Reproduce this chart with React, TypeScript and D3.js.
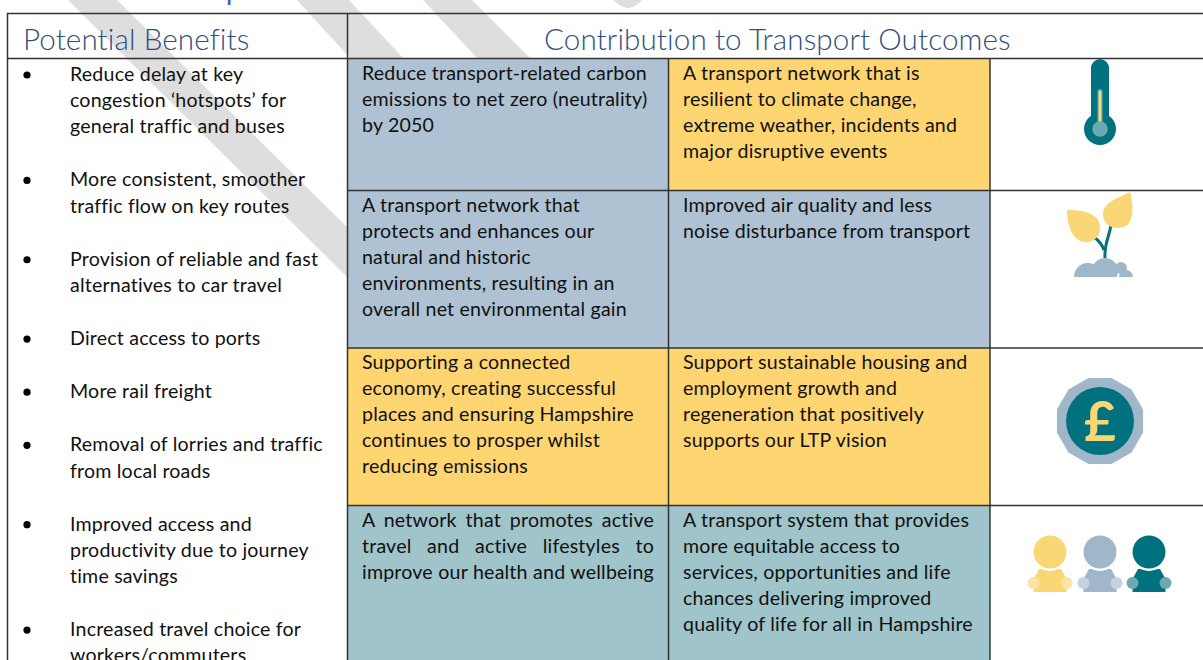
import React from "react";
import * as d3 from "d3";

// text
const benefitHeader = "Potential Benefits";
const outcomeHeader = "Contribution to Transport Outcomes";

const benefits = [
    ["Reduce delay at key", "congestion ‘hotspots’ for", "general traffic and buses"],
    ["More consistent, smoother", "traffic flow on key routes"],
    ["Provision of reliable and fast", "alternatives to car travel"],
    ["Direct access to ports"],
    ["More rail freight"],
    ["Removal of lorries and traffic", "from local roads"],
    ["Improved access and", "productivity due to journey", "time savings"],
    ["Increased travel choice for", "workers/commuters"],
];

const outcomesLeft = [
    ["Reduce transport-related carbon", "emissions to net zero (neutrality)", "by 2050"],
    ["A transport network that", "protects and enhances our", "natural and historic", "environments, resulting in an", "overall net environmental gain"],
    ["Supporting a connected", "economy, creating successful", "places and ensuring Hampshire", "continues to prosper whilst", "reducing emissions"],
    ["A network that promotes active", "travel and active lifestyles to", "improve our health and wellbeing"],
];

const outcomesRight = [
    ["A transport network that is", "resilient to climate change,", "extreme weather, incidents and", "major disruptive events"],
    ["Improved air quality and less", "noise disturbance from transport"],
    ["Support sustainable housing and", "employment growth and", "regeneration that positively", "supports our LTP vision"],
    ["A transport system that provides", "more equitable access to", "services, opportunities and life", "chances delivering improved", "quality of life for all in Hampshire"],
];

const leftFills = ["blue", "blue", "yellow", "teal"];
const rightFills = ["yellow", "blue", "yellow", "teal"];
const rowNames = ["climate", "environment", "economy", "people"];

const colors = {
    blue: "#aec2d3",
    yellow: "#ffd571",
    teal: "#9fc4ca",
    ink: "#333333",
    heading: "#2f4f80",
    stripe: "#dedede",
    iconTeal: "#00727f",
    iconTealSoft: "#6aabb2",
    iconBlue: "#a0b6c9",
    iconBlueSoft: "#c5d3df",
    iconYellow: "#fad775",
    iconYellowSoft: "#fae3a3",
};

export default function App() {
    const ref = React.useRef(null);

    React.useEffect(() => {
        drawChart();
    }, []);

    function drawChart() {
        const width = 1203;
        const height = 660;
        const font = "Lato, sans-serif";
        const bodySize = 19.6;

        const svg = d3.select(ref.current);
        svg.selectAll("*").remove();
        svg.attr("width", width).attr("height", height);

        const y = d3
            .scaleOrdinal()
            .domain(rowNames)
            .range([58.5, 190.5, 348, 505.5]);
        const rowBottom = (i) => (i < 3 ? y(rowNames[i + 1]) : height);

        const colLeft = 347.5;
        const colMid = 668.5;
        const colRight = 990;

        // watermark stripes sit behind the table
        const stripes = [
            "M68,0 L117,0 L347,227 L347,277 Z",
            "M297,0 L349,0 L403,58 L350,58 Z",
            "M423,0 L472,0 L530,58 L477,58 Z",
            "M613,0 L642,0 C636,6 632,8 628,8 C624,8 620,6 613,0 Z",
        ];
        svg.append("g")
            .selectAll("path")
            .data(stripes)
            .enter()
            .append("path")
            .attr("d", (d) => d)
            .attr("fill", colors.stripe);

        // cut off heading above the table
        svg.append("text")
            .attr("x", 226)
            .attr("y", 0)
            .attr("font-family", font)
            .attr("font-size", 27)
            .attr("fill", "#2f5ca8")
            .text("p");

        // cell fills
        const cells = svg.append("g");
        rowNames.forEach((name, i) => {
            cells.append("rect")
                .attr("x", colLeft)
                .attr("y", y(name))
                .attr("width", colMid - colLeft)
                .attr("height", rowBottom(i) - y(name))
                .attr("fill", colors[leftFills[i]]);
            cells.append("rect")
                .attr("x", colMid)
                .attr("y", y(name))
                .attr("width", colRight - colMid)
                .attr("height", rowBottom(i) - y(name))
                .attr("fill", colors[rightFills[i]]);
        });

        // table rules
        const rules = svg.append("g").attr("stroke", colors.ink).attr("stroke-width", 1.5);
        const rule = (x1, y1, x2, y2) =>
            rules.append("line").attr("x1", x1).attr("y1", y1).attr("x2", x2).attr("y2", y2);
        rule(7, 13.5, width, 13.5);
        rule(7.5, 13, 7.5, height);
        rule(7, 58.5, width, 58.5);
        rule(colLeft, 13, colLeft, height);
        rule(colMid, 58, colMid, height);
        rule(colRight, 58, colRight, height);
        rowNames.slice(1).forEach((name) => rule(colLeft, y(name), width, y(name)));

        // headers
        const headers = svg.append("g")
            .attr("font-family", font)
            .attr("font-weight", 300)
            .attr("font-size", 29.6)
            .attr("letter-spacing", 0.1)
            .attr("fill", colors.heading);
        headers.append("text").attr("x", 23).attr("y", 50).text(benefitHeader);
        headers.append("text").attr("x", 544).attr("y", 50).text(outcomeHeader);

        // left column bullets
        const body = svg.append("g")
            .attr("font-family", font)
            .attr("font-size", bodySize)
            .attr("letter-spacing", 0.19)
            .attr("fill", "#111111");

        let baseline = 81;
        benefits.forEach((group) => {
            body.append("circle")
                .attr("cx", 27)
                .attr("cy", baseline - 6)
                .attr("r", 3.6)
                .attr("fill", "#000000");
            group.forEach((line) => {
                body.append("text").attr("x", 70).attr("y", baseline).text(line);
                baseline += 26.15;
            });
            baseline += 27;
        });

        // outcome cells
        const cellText = (lines, x, top, justify) => {
            lines.forEach((line, i) => {
                const t = body.append("text")
                    .attr("x", x)
                    .attr("y", top + 21.3 + i * 26)
                    .text(line);
                if (justify) {
                    const gaps = line.split(" ").length - 1;
                    const extra = (justify - t.node().getComputedTextLength()) / gaps;
                    t.attr("word-spacing", extra);
                }
            });
        };
        rowNames.forEach((name, i) => {
            // only the active travel cell is justified in the source
            cellText(outcomesLeft[i], 362, y(name), i === 3 ? 292 : 0);
            cellText(outcomesRight[i], 683, y(name), 0);
        });

        drawThermometer(svg.append("g"));
        drawPlant(svg.append("g"));
        drawCoin(svg.append("g"), font);
        drawPeople(svg.append("g"));
    }

    function drawThermometer(g) {
        g.append("rect")
            .attr("x", 1091)
            .attr("y", 59)
            .attr("width", 18)
            .attr("height", 70)
            .attr("rx", 9)
            .attr("fill", colors.iconTeal);
        g.append("circle").attr("cx", 1100).attr("cy", 129).attr("r", 16).attr("fill", colors.iconTeal);
        g.append("rect")
            .attr("x", 1097.5)
            .attr("y", 89)
            .attr("width", 5)
            .attr("height", 36)
            .attr("rx", 2.5)
            .attr("fill", colors.iconTealSoft);
        g.append("rect")
            .attr("x", 1098.7)
            .attr("y", 91)
            .attr("width", 2.6)
            .attr("height", 32)
            .attr("fill", colors.iconYellow);
        g.append("circle").attr("cx", 1100).attr("cy", 129).attr("r", 7.7).attr("fill", colors.iconTealSoft);
    }

    function drawPlant(g) {
        const stems = g.append("g")
            .attr("fill", "none")
            .attr("stroke", colors.iconTeal)
            .attr("stroke-width", 3);
        stems.append("path").attr("d", "M1105,258 C1104,244 1109,238 1111,225");
        stems.append("path").attr("d", "M1104,250 C1102,244 1098,240 1094,237");

        const leaves = g.append("g").attr("fill", colors.iconYellow);
        leaves.append("path").attr("d", "M1067,210 C1085,210 1100,214 1100,228 C1100,238 1092,243 1084,242 C1072,240 1067,225 1067,210 Z");
        leaves.append("path").attr("d", "M1130,192 C1134,208 1135,228 1118,228 C1107,228 1102,220 1103,212 C1105,202 1118,198 1130,192 Z");

        // the mound is a few overlapping lumps cut flat at the base
        g.append("clipPath")
            .attr("id", "moundClip")
            .append("rect")
            .attr("x", 1070)
            .attr("y", 250)
            .attr("width", 70)
            .attr("height", 27);
        const lumps = [
            [1088, 277, 14],
            [1105, 271, 13],
            [1121, 268, 6],
            [1126, 277, 7],
        ];
        g.append("g")
            .attr("clip-path", "url(#moundClip)")
            .attr("fill", colors.iconBlue)
            .selectAll("circle")
            .data(lumps)
            .enter()
            .append("circle")
            .attr("cx", (d) => d[0])
            .attr("cy", (d) => d[1])
            .attr("r", (d) => d[2]);
    }

    function drawCoin(g, font) {
        const sides = 12;
        const points = d3.range(sides).map((i) => {
            const a = ((i + 0.5) / sides) * 2 * Math.PI;
            return [1100 + 44.6 * Math.cos(a), 421 + 44.6 * Math.sin(a)];
        });
        g.append("polygon")
            .attr("points", points.map((p) => p.join(",")).join(" "))
            .attr("fill", colors.iconBlue);
        g.append("circle").attr("cx", 1100).attr("cy", 421).attr("r", 34).attr("fill", colors.iconTeal);
        g.append("text")
            .attr("x", 1100)
            .attr("y", 441)
            .attr("text-anchor", "middle")
            .attr("font-family", font)
            .attr("font-weight", 700)
            .attr("font-size", 55)
            .attr("fill", colors.iconYellow)
            .text("£");
    }

    function drawPeople(g) {
        const people = [
            [1050, colors.iconYellow, colors.iconYellowSoft],
            [1100, colors.iconBlue, colors.iconBlueSoft],
            [1149, colors.iconTeal, colors.iconTealSoft],
        ];
        people.forEach(([cx, fill, soft]) => {
            g.append("path")
                .attr("d", `M${cx - 16.5},592 L${cx - 16.5},579 L${cx - 11},569 L${cx + 11},569 L${cx + 16.5},579 L${cx + 16.5},592 Z`)
                .attr("fill", fill);
            g.append("circle").attr("cx", cx).attr("cy", 552).attr("r", 19).attr("fill", "#ffffff");
            g.append("circle").attr("cx", cx).attr("cy", 552).attr("r", 16.5).attr("fill", fill);
            g.append("circle").attr("cx", cx - 16.5).attr("cy", 583).attr("r", 6).attr("fill", soft);
            g.append("circle").attr("cx", cx + 16.5).attr("cy", 583).attr("r", 6).attr("fill", soft);
        });
    }

    return <svg ref={ref} style={{ position: "absolute", left: 0, top: 0, display: "block" }} />;
}
